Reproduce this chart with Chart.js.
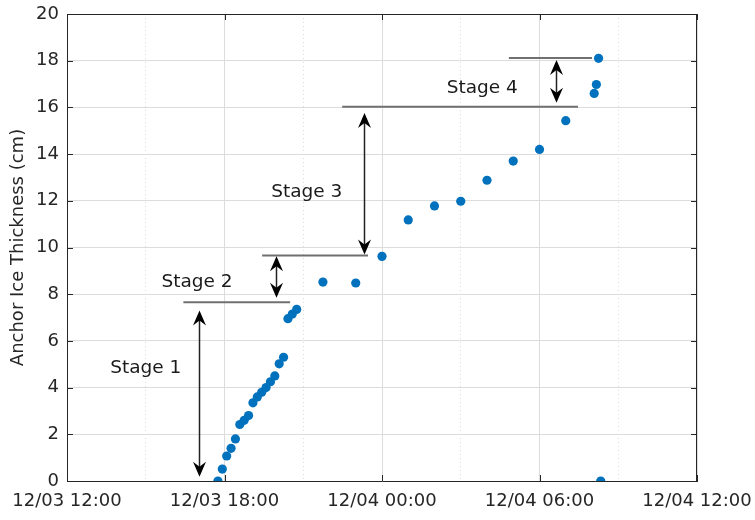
<!DOCTYPE html>
<html><head><meta charset="utf-8">
<script src="https://cdn.jsdelivr.net/npm/chart.js@4.4.1/dist/chart.umd.min.js"></script>
<style>html,body{margin:0;padding:0;background:#fff}canvas{display:block}</style>
</head><body>
<canvas id="c" width="755" height="520"></canvas>
<script>
// ---- data ----
const times = [
  '12/03 17:45','12/03 17:55','12/03 18:05','12/03 18:15','12/03 18:25','12/03 18:35',
  '12/03 18:45','12/03 18:55','12/03 19:05','12/03 19:15','12/03 19:25','12/03 19:35',
  '12/03 19:45','12/03 19:55','12/03 20:05','12/03 20:15','12/03 20:25','12/03 20:35',
  '12/03 20:45','12/03 21:45','12/03 23:00','12/04 00:00','12/04 01:00','12/04 02:00',
  '12/04 03:00','12/04 04:00','12/04 05:00','12/04 06:00','12/04 07:00','12/04 08:05',
  '12/04 08:10','12/04 08:15','12/04 08:20'
];
const thickness = [
  0, 0.51, 1.07, 1.4, 1.8, 2.42,
  2.6, 2.8, 3.35, 3.6, 3.8, 4.0,
  4.25, 4.5, 5.02, 5.3, 6.95, 7.15,
  7.35, 8.52, 8.48, 9.62, 11.18, 11.78,
  11.98, 12.88, 13.7, 14.2, 15.43, 16.6,
  16.98, 18.1, 0
];
const xTickLabels = ['12/03 12:00','12/03 18:00','12/04 00:00','12/04 06:00','12/04 12:00'];
const yTickValues = [0,2,4,6,8,10,12,14,16,18,20];
const yTitle = 'Anchor Ice Thickness (cm)';

// annotations (in data units)
const stageNames   = ['Stage 1','Stage 2','Stage 3','Stage 4'];
const stageLabelX  = ['12/03 15:00','12/03 16:57','12/03 21:08','12/04 03:49'];
const stageLabelY  = [4.84, 8.52, 12.38, 16.83];
const levelStart   = ['12/03 16:26','12/03 19:26','12/03 22:29','12/04 04:50'];
const levelEnd     = ['12/03 20:30','12/03 23:28','12/04 07:28','12/04 08:00'];
const levelValue   = [7.65, 9.66, 16.03, 18.12];
const arrowTime    = ['12/03 17:02','12/03 19:58','12/03 23:20','12/04 06:38'];
const arrowLow     = [0.18, 7.85, 9.7, 16.2];
const arrowHigh    = [7.3, 9.62, 15.76, 18.03];

function toHours(s){
  const [md, hm] = s.split(' ');
  const day = +md.split('/')[1];
  const [h, m] = hm.split(':').map(Number);
  return (day - 3) * 24 + h + m / 60;
}
const points = times.map((t, i) => ({x: toHours(t), y: thickness[i]}));
const majorX = xTickLabels.map(toHours);
const FONT = "'DejaVu Sans', sans-serif";

function head(ctx, x, y, dir){
  const L = 15, W = 6.5, N = 5;
  ctx.beginPath();
  ctx.moveTo(x, y);
  ctx.lineTo(x - W, y - dir * L);
  ctx.lineTo(x, y - dir * (L - N));
  ctx.lineTo(x + W, y - dir * L);
  ctx.closePath();
  ctx.fill();
}
function noPad(s){ s.paddingTop = 0; s.paddingBottom = 0; s.paddingLeft = 0; s.paddingRight = 0; }

const decor = {
  id: 'decor',
  beforeDatasetsDraw(chart){
    const {ctx, chartArea: a, scales: {x, y}} = chart;
    ctx.save();
    ctx.strokeStyle = '#262626'; ctx.lineWidth = 1;
    ctx.beginPath();
    ctx.moveTo(a.left, a.top + 0.5); ctx.lineTo(a.right, a.top + 0.5);
    ctx.moveTo(a.right - 0.5, a.top); ctx.lineTo(a.right - 0.5, a.bottom);
    ctx.stroke();
    ctx.beginPath();
    yTickValues.forEach(v => {
      const py = Math.round(y.getPixelForValue(v)) + 0.5;
      ctx.moveTo(a.left, py); ctx.lineTo(a.left + 6, py);
      ctx.moveTo(a.right, py); ctx.lineTo(a.right - 6, py);
    });
    majorX.forEach(v => {
      const pxv = Math.round(x.getPixelForValue(v)) + 0.5;
      ctx.moveTo(pxv, a.bottom); ctx.lineTo(pxv, a.bottom - 6);
      ctx.moveTo(pxv, a.top); ctx.lineTo(pxv, a.top + 6);
    });
    ctx.stroke();
    ctx.strokeStyle = '#707070'; ctx.lineWidth = 2;
    levelValue.forEach((v, i) => {
      const py = y.getPixelForValue(v);
      ctx.beginPath();
      ctx.moveTo(x.getPixelForValue(toHours(levelStart[i])), py);
      ctx.lineTo(x.getPixelForValue(toHours(levelEnd[i])), py);
      ctx.stroke();
    });
    ctx.fillStyle = '#000'; ctx.strokeStyle = '#222'; ctx.lineWidth = 1.5;
    arrowTime.forEach((t, i) => {
      const px = Math.round(x.getPixelForValue(toHours(t))) + 0.5;
      const pTop = y.getPixelForValue(arrowHigh[i]);
      const pBot = y.getPixelForValue(arrowLow[i]);
      ctx.beginPath();
      ctx.moveTo(px, pTop + 8); ctx.lineTo(px, pBot - 8);
      ctx.stroke();
      head(ctx, px, pTop, -1);
      head(ctx, px, pBot, 1);
    });
    ctx.fillStyle = '#1a1a1a';
    ctx.font = '18.5px ' + FONT;
    ctx.textAlign = 'center'; ctx.textBaseline = 'middle';
    stageNames.forEach((s, i) => {
      ctx.fillText(s, x.getPixelForValue(toHours(stageLabelX[i])), y.getPixelForValue(stageLabelY[i]));
    });
    ctx.restore();
  }
};

new Chart(document.getElementById('c'), {
  type: 'scatter',
  data: { datasets: [{
    data: points,
    backgroundColor: '#0072BD', borderColor: '#0072BD',
    borderWidth: 0, pointRadius: 4.6, pointHoverRadius: 4.6
  }]},
  options: {
    responsive: false, animation: false, devicePixelRatio: 1,
    layout: { padding: { left: 0, right: 58, top: 14, bottom: 0 } },
    plugins: { legend: { display: false }, tooltip: { enabled: false } },
    scales: {
      x: {
        type: 'linear', min: majorX[0], max: majorX[majorX.length - 1],
        afterBuildTicks: s => {
          const t = [];
          for (let i = 0; i < majorX.length; i++) {
            t.push({value: majorX[i]});
            if (i < majorX.length - 1) t.push({value: (majorX[i] + majorX[i + 1]) / 2});
          }
          t.sort((a, b) => a.value - b.value);
          s.ticks = t;
        },
        afterFit: s => { s.height = 39; noPad(s); },
        ticks: {
          autoSkip: false, maxRotation: 0, minRotation: 0, padding: 10,
          color: '#262626', font: { family: FONT, size: 18 },
          callback: v => { const k = majorX.indexOf(v); return k >= 0 ? xTickLabels[k] : ''; }
        },
        grid: { drawTicks: false, color: '#dcdcdc', lineWidth: 1 },
        border: {
          display: true, color: '#262626', width: 1,
          dash: c => (c.tick && majorX.indexOf(c.tick.value) < 0) ? [1, 3] : []
        }
      },
      y: {
        min: 0, max: 20,
        afterBuildTicks: s => { s.ticks = yTickValues.map(v => ({value: v})); },
        afterFit: s => { s.width = 67; noPad(s); },
        ticks: { padding: 8, color: '#262626', font: { family: FONT, size: 18 } },
        grid: { drawTicks: false, color: '#dcdcdc', lineWidth: 1 },
        border: { display: true, color: '#262626', width: 1 },
        title: {
          display: true, text: yTitle, color: '#262626',
          font: { family: FONT, size: 18 }, padding: { top: 8, bottom: 0 }
        }
      }
    }
  },
  plugins: [decor]
});
</script>
</body></html>
